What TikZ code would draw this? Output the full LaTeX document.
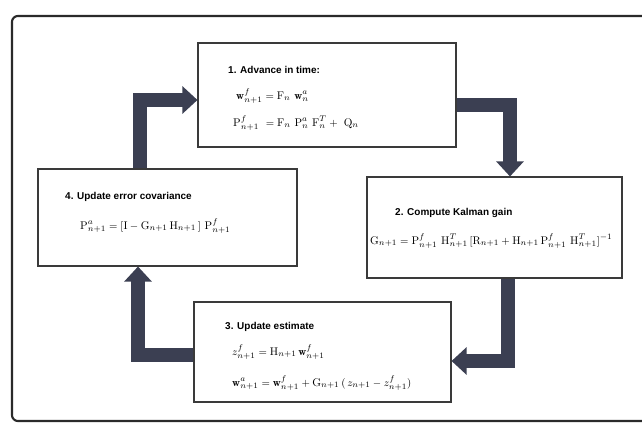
\documentclass[tikz,border=0pt]{standalone}
\usepackage{amsmath}
\usepackage{fontspec}
\setsansfont{Liberation Sans}
\usetikzlibrary{positioning,arrows.meta}
\definecolor{cflecha}{HTML}{3B3F52}
\definecolor{cborde}{HTML}{3A3A3A}
\definecolor{cmarco}{HTML}{2A2A2A}
\tikzset{
  caja/.style={rectangle, draw=cborde, line width=0.9pt, fill=white, inner sep=0pt},
  titulo/.style={anchor=west, inner sep=0pt, font=\sffamily\bfseries\fontsize{8.5}{10}\selectfont},
  ecu/.style={anchor=west, inner sep=0pt, font=\fontsize{9.5}{11}\selectfont},
  flecha/.style={-{Triangle[length=0.45cm,width=0.8cm]}, line width=0.42cm, draw=cflecha, line join=miter},
  marco/.style={draw=cmarco, line width=1.8pt, rounded corners=5pt},
}

\begin{document}
\begin{tikzpicture}[x=0.03cm, y=-0.03cm]
  \clip (0,0) rectangle (642,428);
  \fill[white] (0,0) rectangle (642,428);
  % marco exterior
  \draw[marco] (650,16) -- (12,16) -- (12,421) -- (650,421);

  % cajas
  \node[caja, minimum width=7.74cm, minimum height=3.12cm] (avance) at (327,95) {};
  \node[caja, minimum width=7.65cm, minimum height=3.03cm] (ganancia) at (494.5,227.5) {};
  \node[caja, minimum width=7.71cm, minimum height=3.0cm] (estimado) at (322.5,352) {};
  \node[caja, minimum width=7.77cm, minimum height=2.91cm] (covar) at (167.5,217.5) {};

  % flechas del ciclo
  \draw[flecha] ([yshift=-0.3cm]avance.east) -| ([xshift=0.465cm]ganancia.north);
  \draw[flecha] ([xshift=0.405cm]ganancia.south) |- ([yshift=-0.27cm]estimado.east);
  \draw[flecha] ([yshift=-0.09cm]estimado.west) -| ([xshift=-0.885cm]covar.south);
  \draw[flecha] ([xshift=-0.825cm]covar.north) |- ([yshift=-0.15cm]avance.west);

  % 1
  \node[titulo] (t1) at (228,70) {1. Advance in time:};
  \node[ecu] (e1a) at (236,96) {$\mathbf{w}^{f}_{n+1} = \mathrm{F}_{n}\ \mathbf{w}^{a}_{n}$};
  \node[ecu] (e1b) at (233,123) {$\mathrm{P}^{f}_{n+1} \ = \mathrm{F}_{n}\ \mathrm{P}^{a}_{n}\ \mathrm{F}^{T}_{n} + \ \mathrm{Q}_{n}$};

  % 2
  \node[titulo] (t2) at (395,213) {2. Compute Kalman gain};
  \node[ecu] (e2) at (370,241) {$\mathrm{G}_{n+1} = \mathrm{P}^{f}_{n+1}\ \mathrm{H}^{T}_{n+1}\,[\mathrm{R}_{n+1} + \mathrm{H}_{n+1}\,\mathrm{P}^{f}_{n+1}\ \mathrm{H}^{T}_{n+1}]^{-1}$};

  % 3
  \node[titulo] (t3) at (225,327) {3. Update estimate};
  \node[ecu] (e3a) at (232,352) {$z^{f}_{n+1} = \mathrm{H}_{n+1}\,\mathbf{w}^{f}_{n+1}$};
  \node[ecu] (e3b) at (232,383) {$\mathbf{w}^{a}_{n+1} = \mathbf{w}^{f}_{n+1} + \mathrm{G}_{n+1}\,(\,z_{n+1} - z^{f}_{n+1})$};

  % 4
  \node[titulo] (t4) at (65,197) {4. Update error covariance};
  \node[ecu] (e4) at (80,226) {$\mathrm{P}^{a}_{n+1} = [\mathrm{I} - \mathrm{G}_{n+1}\,\mathrm{H}_{n+1}\,]\ \mathrm{P}^{f}_{n+1}$};
\end{tikzpicture}
\end{document}
